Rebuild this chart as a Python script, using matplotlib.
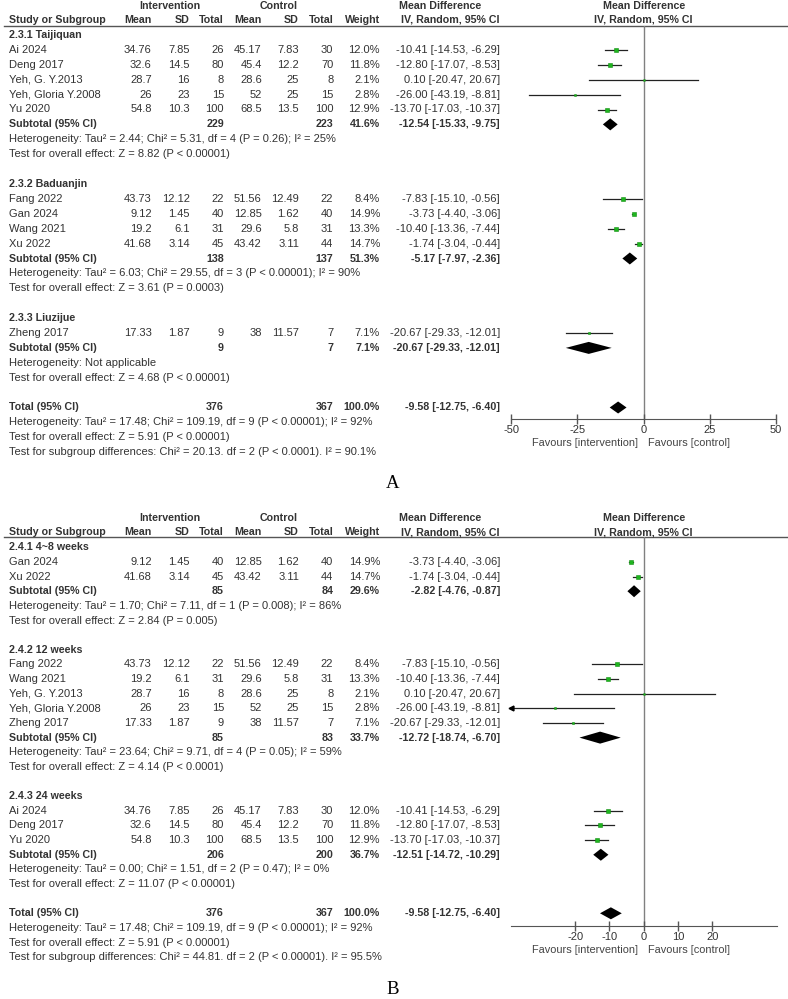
import matplotlib
matplotlib.use("Agg")
import numpy as np
import matplotlib.pyplot as plt

plt.rcParams['font.family'] = ['Liberation Sans', 'DejaVu Sans']
plt.rcParams['axes.unicode_minus'] = False

# ---- study level data (same 10 studies in both panels) ----
names = ["Ai 2024", "Deng 2017", "Yeh, G. Y.2013", "Yeh, Gloria Y.2008", "Yu 2020",
         "Fang 2022", "Gan 2024", "Wang 2021", "Xu 2022", "Zheng 2017"]
int_mean = [34.76, 32.6, 28.7, 26, 54.8, 43.73, 9.12, 19.2, 41.68, 17.33]
int_sd = [7.85, 14.5, 16, 23, 10.3, 12.12, 1.45, 6.1, 3.14, 1.87]
int_n = [26, 80, 8, 15, 100, 22, 40, 31, 45, 9]
ctl_mean = [45.17, 45.4, 28.6, 52, 68.5, 51.56, 12.85, 29.6, 43.42, 38]
ctl_sd = [7.83, 12.2, 25, 25, 13.5, 12.49, 1.62, 5.8, 3.11, 11.57]
ctl_n = [30, 70, 8, 15, 100, 22, 40, 31, 44, 7]
weight = [12.0, 11.8, 2.1, 2.8, 12.9, 8.4, 14.9, 13.3, 14.7, 7.1]
md = [-10.41, -12.80, 0.10, -26.00, -13.70, -7.83, -3.73, -10.40, -1.74, -20.67]
md_lo = [-14.53, -17.07, -20.47, -43.19, -17.03, -15.10, -4.40, -13.36, -3.04, -29.33]
md_hi = [-6.29, -8.53, 20.67, -8.81, -10.37, -0.56, -3.06, -7.44, -0.44, -12.01]

# ---- panel A subgroups ----
a_titles = ["2.3.1 Taijiquan", "2.3.2 Baduanjin", "2.3.3 Liuzijue"]
a_members = [["Ai 2024", "Deng 2017", "Yeh, G. Y.2013", "Yeh, Gloria Y.2008", "Yu 2020"],
             ["Fang 2022", "Gan 2024", "Wang 2021", "Xu 2022"],
             ["Zheng 2017"]]
a_sub_n = [(229, 223), (138, 137), (9, 7)]
a_sub_w = [41.6, 51.3, 7.1]
a_sub_md = [(-12.54, -15.33, -9.75), (-5.17, -7.97, -2.36), (-20.67, -29.33, -12.01)]
a_het = ["Tau² = 2.44; Chi² = 5.31, df = 4 (P = 0.26); I² = 25%",
         "Tau² = 6.03; Chi² = 29.55, df = 3 (P < 0.00001); I² = 90%",
         "Not applicable"]
a_z = ["Z = 8.82 (P < 0.00001)", "Z = 3.61 (P = 0.0003)", "Z = 4.68 (P < 0.00001)"]
a_subdiff = "Chi² = 20.13. df = 2 (P < 0.0001). I² = 90.1%"
a_ticks = [-50, -25, 0, 25, 50]

# ---- panel B subgroups ----
b_titles = ["2.4.1 4~8 weeks", "2.4.2 12 weeks", "2.4.3 24 weeks"]
b_members = [["Gan 2024", "Xu 2022"],
             ["Fang 2022", "Wang 2021", "Yeh, G. Y.2013", "Yeh, Gloria Y.2008", "Zheng 2017"],
             ["Ai 2024", "Deng 2017", "Yu 2020"]]
b_sub_n = [(85, 84), (85, 83), (206, 200)]
b_sub_w = [29.6, 33.7, 36.7]
b_sub_md = [(-2.82, -4.76, -0.87), (-12.72, -18.74, -6.70), (-12.51, -14.72, -10.29)]
b_het = ["Tau² = 1.70; Chi² = 7.11, df = 1 (P = 0.008); I² = 86%",
         "Tau² = 23.64; Chi² = 9.71, df = 4 (P = 0.05); I² = 59%",
         "Tau² = 0.00; Chi² = 1.51, df = 2 (P = 0.47); I² = 0%"]
b_z = ["Z = 2.84 (P = 0.005)", "Z = 4.14 (P < 0.0001)", "Z = 11.07 (P < 0.00001)"]
b_subdiff = "Chi² = 44.81. df = 2 (P < 0.00001). I² = 95.5%"
b_ticks = [-20, -10, 0, 10, 20]

# ---- overall ----
tot_n = (376, 367)
tot_md = (-9.58, -12.75, -6.40)
tot_het = "Tau² = 17.48; Chi² = 109.19, df = 9 (P < 0.00001); I² = 92%"
tot_z = "Z = 5.91 (P < 0.00001)"

W, H = 788, 999
TXT = '#333333'
FS = 8.0      # regular table text
FSB = 7.7     # bold table text
GREEN = '#1fb51f'

fig = plt.figure(figsize=(W / 100, H / 100), dpi=100)
bg = fig.add_axes([0, 0, 1, 1])
bg.set_xlim(0, W)
bg.set_ylim(H, 0)
bg.axis('off')

# column right edges (pixels)
cols = [151.7, 190, 224, 261.7, 299, 333.3, 380, 500]
x_name = 9
x_zero = 643.7


def put(x, y, s, ha='right', bold=False, size=None, color=TXT):
    if size is None:
        size = FSB if bold else FS
    bg.text(x, y, s, ha=ha, va='center', fontsize=size, color=color,
            fontweight='bold' if bold else 'normal')


def panel(titles, members, sub_n, sub_w, sub_md, het, zs, subdiff,
          top, sp, hdr1, hdr2, rule, ax_left, ax_right, ax_y, xlim, ticks, label, label_y):
    # header
    put(170, hdr1, "Intervention", ha='center', bold=True)
    put(279, hdr1, "Control", ha='center', bold=True)
    put(440, hdr1, "Mean Difference", ha='center', bold=True)
    put(x_zero, hdr1, "Mean Difference", ha='center', bold=True)
    put(x_name, hdr2, "Study or Subgroup", ha='left', bold=True)
    for x, s in zip(cols, ["Mean", "SD", "Total", "Mean", "SD", "Total", "Weight",
                           "IV, Random, 95% CI"]):
        put(x, hdr2, s, bold=True)
    put(x_zero, hdr2, "IV, Random, 95% CI", ha='center', bold=True)
    bg.plot([4, W], [rule, rule], color='#555555', lw=1.0)

    # forest axes
    ax = fig.add_axes([ax_left / W, 1 - ax_y / H, (ax_right - ax_left) / W, (ax_y - rule) / H])
    ax.set_xlim(*xlim)
    ax.set_ylim((ax_y - top) / sp, (rule - top) / sp)
    for s in ['top', 'left', 'right']:
        ax.spines[s].set_visible(False)
    ax.spines['bottom'].set_color('#555555')
    ax.patch.set_alpha(0)
    ax.set_yticks([])
    ax.set_xticks(ticks)
    ax.set_xticklabels([str(t) for t in ticks])
    ax.tick_params(axis='x', direction='inout', length=7, width=1, color='#555555',
                   labelsize=8, labelcolor=TXT, pad=1)
    ax.axvline(0, color='#808080', lw=1.0, zorder=1)

    def diamond(row, m, lo, hi):
        h = 6.0 / sp
        ax.fill([lo, m, hi, m], [row, row - h, row, row + h], color='black', lw=0, zorder=3)

    row = 0
    for g in range(len(titles)):
        put(x_name, top + sp * row, titles[g], ha='left', bold=True)
        row += 1
        for nm in members[g]:
            k = names.index(nm)
            y = top + sp * row
            put(x_name, y, nm, ha='left')
            vals = [f"{int_mean[k]:g}", f"{int_sd[k]:g}", str(int_n[k]),
                    f"{ctl_mean[k]:g}", f"{ctl_sd[k]:g}", str(ctl_n[k]),
                    f"{weight[k]:.1f}%",
                    f"{md[k]:.2f} [{md_lo[k]:.2f}, {md_hi[k]:.2f}]"]
            for x, s in zip(cols, vals):
                put(x, y, s)
            lo = max(md_lo[k], xlim[0])
            hi = min(md_hi[k], xlim[1])
            ax.plot([lo, hi], [row, row], color='#222222', lw=0.9, zorder=2)
            if md_lo[k] < xlim[0]:
                ax.plot([xlim[0]], [row], marker='<', ms=3.5, color='black',
                        clip_on=False, zorder=3)
            ax.plot([md[k]], [row], marker='s', ms=3.1 * np.sqrt(weight[k] / 14.9),
                    color=GREEN, mec='#149014', mew=0.4, zorder=4)
            row += 1
        y = top + sp * row
        put(x_name, y, "Subtotal (95% CI)", ha='left', bold=True)
        put(cols[2], y, str(sub_n[g][0]), bold=True)
        put(cols[5], y, str(sub_n[g][1]), bold=True)
        put(cols[6], y, f"{sub_w[g]:.1f}%", bold=True)
        m, lo, hi = sub_md[g]
        put(cols[7], y, f"{m:.2f} [{lo:.2f}, {hi:.2f}]", bold=True)
        diamond(row, m, lo, hi)
        row += 1
        put(x_name, top + sp * row, "Heterogeneity: " + het[g], ha='left')
        row += 1
        put(x_name, top + sp * row, "Test for overall effect: " + zs[g], ha='left')
        row += 2

    y = top + sp * row
    put(x_name, y, "Total (95% CI)", ha='left', bold=True)
    put(cols[2], y, str(tot_n[0]), bold=True)
    put(cols[5], y, str(tot_n[1]), bold=True)
    put(cols[6], y, "100.0%", bold=True)
    m, lo, hi = tot_md
    put(cols[7], y, f"{m:.2f} [{lo:.2f}, {hi:.2f}]", bold=True)
    diamond(row, m, lo, hi)
    row += 1
    put(x_name, top + sp * row, "Heterogeneity: " + tot_het, ha='left')
    row += 1
    put(x_name, top + sp * row, "Test for overall effect: " + tot_z, ha='left')
    row += 1
    put(x_name, top + sp * row, "Test for subgroup differences: " + subdiff, ha='left')

    put(x_zero - 6, ax_y + 24, "Favours [intervention]", ha='right', size=7.9, color='#444444')
    put(x_zero + 4, ax_y + 24, "Favours [control]", ha='left', size=7.9, color='#444444')
    bg.text(393, label_y, label, ha='center', va='center', fontsize=13.5,
            family=['Liberation Serif', 'DejaVu Serif'], color='black')


panel(a_titles, a_members, a_sub_n, a_sub_w, a_sub_md, a_het, a_z, a_subdiff,
      top=35, sp=14.9, hdr1=6, hdr2=20, rule=26,
      ax_left=511, ax_right=776, ax_y=419, xlim=(-50, 50), ticks=a_ticks,
      label="A", label_y=483)

panel(b_titles, b_members, b_sub_n, b_sub_w, b_sub_md, b_het, b_z, b_subdiff,
      top=547.3, sp=14.64, hdr1=517.7, hdr2=532.3, rule=537.3,
      ax_left=511, ax_right=777, ax_y=925.7, xlim=(-38.7, 38.86), ticks=b_ticks,
      label="B", label_y=990)

fig.savefig("out.png", dpi=100)
